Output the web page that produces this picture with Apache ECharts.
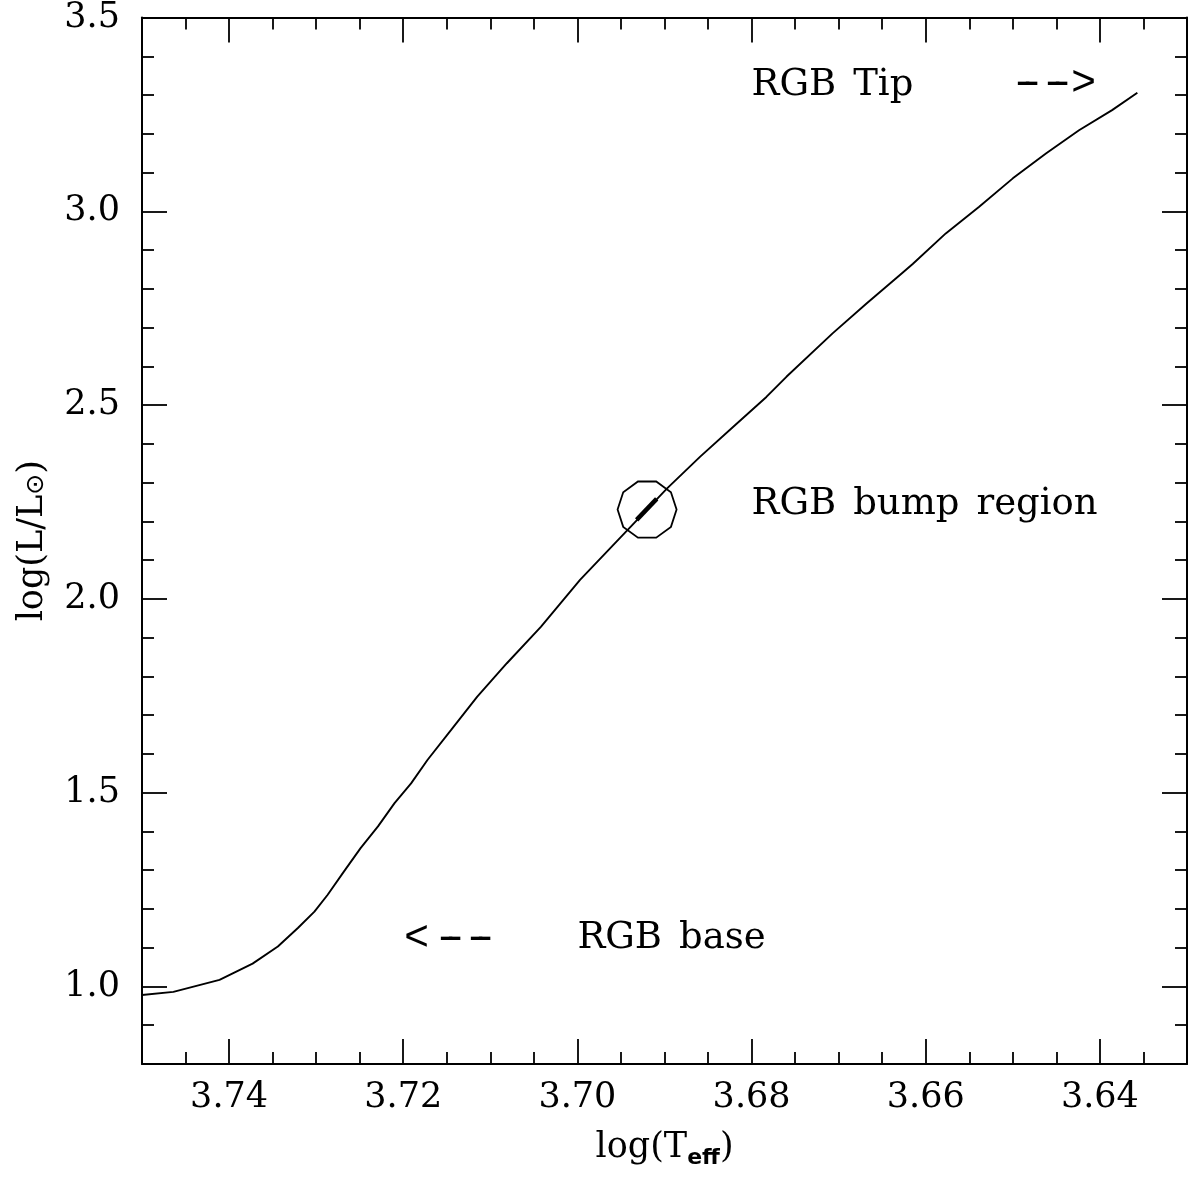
<!DOCTYPE html>
<html>
<head>
<meta charset="utf-8">
<script src="https://cdn.jsdelivr.net/npm/echarts@6/dist/echarts.min.js"></script>
<style>
html,body{margin:0;padding:0;background:#fff;}
#chart{width:1188px;height:1182px;}
</style>
</head>
<body>
<div id="chart"></div>
<script>
// ---- data ----
const logTeff = [3.7500,3.7464,3.7411,3.7373,3.7344,3.7321,3.7302,3.7287,3.7268,3.7249,3.7229,3.7210,3.7191,3.7172,3.7145,3.7115,3.7081,3.7042,3.6997,3.6939,3.6897,3.6859,3.6821,3.6783,3.6760,3.6707,3.6668,3.6630,3.6615,3.6577,3.6539,3.6500,3.6462,3.6424,3.6386,3.6357];
const logL    = [0.978,0.986,1.017,1.059,1.103,1.151,1.193,1.236,1.297,1.357,1.413,1.473,1.524,1.585,1.662,1.748,1.834,1.928,2.049,2.186,2.285,2.367,2.444,2.521,2.573,2.685,2.762,2.835,2.864,2.943,3.011,3.085,3.149,3.209,3.261,3.306];
const bumpTeff = [3.6932,3.6909];
const bumpL    = [2.204,2.258];
const bumpCircle = [3.6920,2.2305];
const xMajorTicks = [3.64,3.66,3.68,3.70,3.72,3.74];
const xMinorTicks = [3.635,3.645,3.650,3.655,3.665,3.670,3.675,3.685,3.690,3.695,3.705,3.710,3.715,3.725,3.730,3.735,3.745];
const yMajorTicks = [1.0,1.5,2.0,2.5,3.0,3.5];
const yMinorTicks = [0.9,1.1,1.2,1.3,1.4,1.6,1.7,1.8,1.9,2.1,2.2,2.3,2.4,2.6,2.7,2.8,2.9,3.1,3.2,3.3,3.4];
const labelTexts = [
  [3.680,3.30,'RGB Tip'],
  [3.680,2.22,'RGB bump region'],
  [3.700,1.10,'RGB base']
];
const arrowTexts = [
  [3.6505,3.328,'-->'],
  [3.7202,1.124,'<--']
];

const FONT = 'DejaVu Serif';
const X_MIN = 3.63, X_MAX = 3.75, Y_MIN = 0.8, Y_MAX = 3.5;

function decagonPath(){
  let d = '';
  for (let k = 0; k < 10; k++) {
    const a = k * Math.PI / 5;
    const px = (50 + 50 * Math.cos(a)).toFixed(2);
    const py = (50 - 50 * Math.sin(a)).toFixed(2);
    d += (k === 0 ? 'M' : 'L') + px + ' ' + py + ' ';
  }
  return 'path://' + d + 'Z';
}

function xAx(pos, ticks, len, withLabels, withLine){
  return {
    type:'value', position:pos, min:X_MIN, max:X_MAX, inverse:true,
    axisLine:{show:withLine, lineStyle:{color:'#000', width:2}},
    axisTick:{show:true, inside:true, length:len, customValues:ticks, lineStyle:{color:'#000', width:1.8}},
    axisLabel:{show:withLabels, customValues:ticks, margin:16, color:'#000', fontFamily:FONT, fontSize:35,
      formatter:(v)=>v.toFixed(2)},
    splitLine:{show:false},
    name: withLabels ? 'log(T{sub|eff})' : '',
    nameLocation:'middle', nameGap:63,
    nameTextStyle:{color:'#000', fontFamily:FONT, fontSize:35,
      rich:{sub:{fontFamily:'DejaVu Sans', fontWeight:'bold', fontSize:22, color:'#000', padding:[20,0,0,0]}}}
  };
}
function yAx(pos, ticks, len, withLabels, withLine){
  return {
    type:'value', position:pos, min:Y_MIN, max:Y_MAX,
    axisLine:{show:withLine, lineStyle:{color:'#000', width:2}},
    axisTick:{show:true, inside:true, length:len, customValues:ticks, lineStyle:{color:'#000', width:1.8}},
    axisLabel:{show:withLabels, customValues:ticks, margin:22, color:'#000', fontFamily:FONT, fontSize:35,
      formatter:(v)=>v.toFixed(1)},
    splitLine:{show:false},
    name: withLabels ? 'log(L/L{sub|⊙})' : '',
    nameLocation:'middle', nameGap:92, nameRotate:90,
    nameTextStyle:{color:'#000', fontFamily:FONT, fontSize:35,
      rich:{sub:{fontFamily:'DejaVu Sans', fontSize:25, color:'#000', padding:[8,0,0,0]}}}
  };
}

const chart = echarts.init(document.getElementById('chart'), null, {renderer:'canvas'});
chart.setOption({
  backgroundColor:'#fff',
  animation:false,
  grid:{left:142, right:1, top:17, bottom:118, containLabel:false},
  xAxis:[
    xAx('bottom', xMajorTicks, 25, true, true),
    xAx('bottom', xMinorTicks, 12, false, false),
    xAx('top', xMajorTicks, 25, false, true),
    xAx('top', xMinorTicks, 12, false, false)
  ],
  yAxis:[
    yAx('left', yMajorTicks, 25, true, true),
    yAx('left', yMinorTicks, 12, false, false),
    yAx('right', yMajorTicks, 25, false, true),
    yAx('right', yMinorTicks, 12, false, false)
  ],
  series:[
    {
      type:'line', xAxisIndex:0, yAxisIndex:0, showSymbol:false, symbol:'none',
      data: logTeff.map((x,i)=>[x, logL[i]]),
      lineStyle:{color:'#000', width:1.9}, silent:true
    },
    {
      type:'line', xAxisIndex:0, yAxisIndex:0, showSymbol:false, symbol:'none',
      data: bumpTeff.map((x,i)=>[x, bumpL[i]]),
      lineStyle:{color:'#000', width:4.5}, silent:true
    },
    {
      type:'scatter', xAxisIndex:0, yAxisIndex:0,
      symbol: decagonPath(), symbolSize:59, symbolKeepAspect:true,
      itemStyle:{color:'rgba(0,0,0,0)', borderColor:'#000', borderWidth:1.8, opacity:1},
      data:[bumpCircle], silent:true
    },
    {
      type:'scatter', xAxisIndex:0, yAxisIndex:0, symbolSize:0,
      itemStyle:{opacity:1},
      data: labelTexts,
      label:{show:true, position:[0,0], align:'left', verticalAlign:'bottom', offset:[0,9],
        color:'#000', fontFamily:FONT, fontSize:37,
        formatter:(p)=>p.data[2].split(' ').join('{s| }'),
        rich:{s:{width:17, fontSize:37, fontFamily:FONT}}},
      silent:true
    },
    {
      type:'scatter', xAxisIndex:0, yAxisIndex:0, symbolSize:0,
      itemStyle:{opacity:1},
      data: arrowTexts,
      label:{show:true, position:[0,0], align:'left', verticalAlign:'middle',
        color:'#000', fontFamily:'Liberation Mono', fontSize:42,
        formatter:(p)=>p.data[2].split('').map(c=>(c==='-'?'{d|':'{c|')+c+'}').join(''),
        rich:{
          c:{width:30, align:'center', fontFamily:'Liberation Mono', fontSize:42, color:'#000'},
          d:{width:30, align:'center', fontFamily:'Liberation Mono', fontSize:42, color:'#000',
             textShadowColor:'rgba(0,0,0,1)', textShadowBlur:0.01, textShadowOffsetX:8, textShadowOffsetY:0}
        }},
      silent:true
    }
  ]
});
</script>
</body>
</html>
